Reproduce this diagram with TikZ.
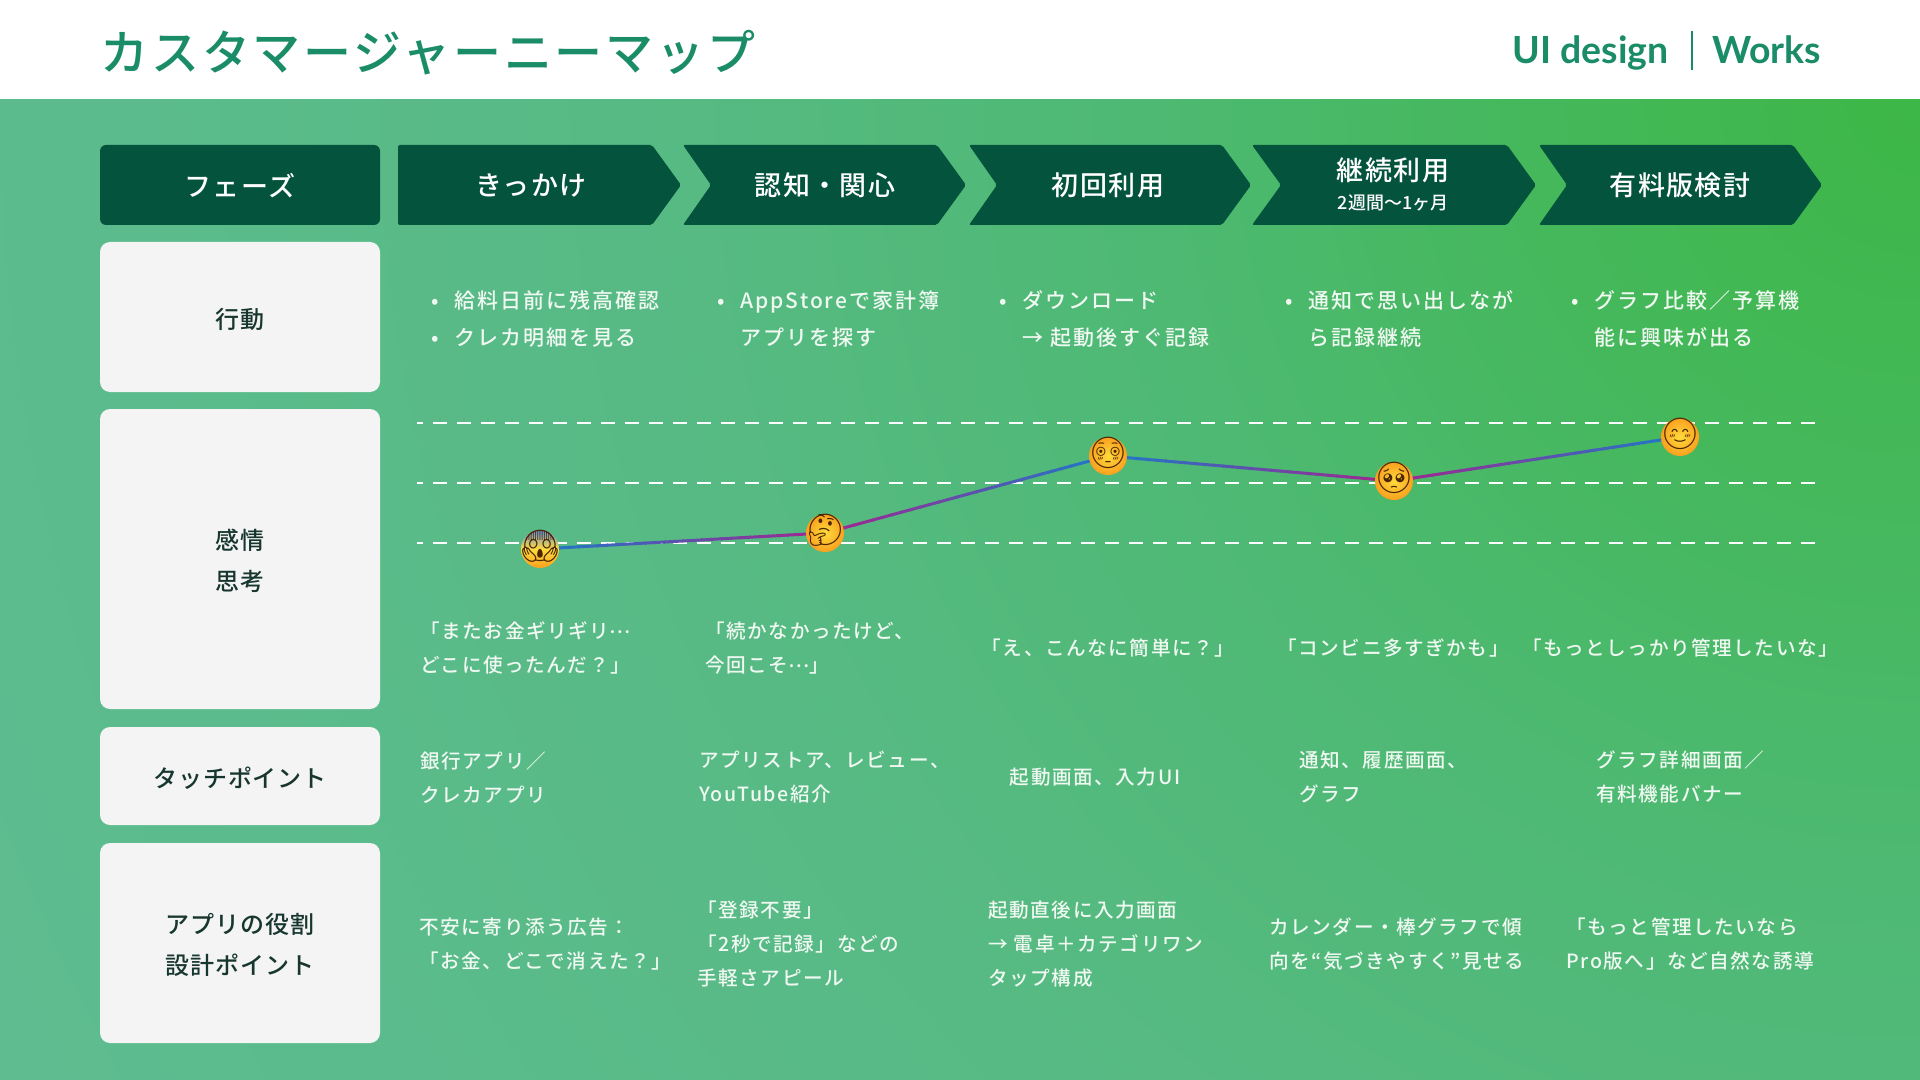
\documentclass[tikz,border=0pt]{standalone}
\usepackage{fontspec}
\usetikzlibrary{calc}
\setmainfont{Noto Sans CJK JP Medium}
\newfontfamily\bodyA[LetterSpace=8]{Noto Sans CJK JP Medium}
\newfontfamily\bodyB[LetterSpace=9.5]{Noto Sans CJK JP Medium}
\newfontfamily\head[LetterSpace=5]{Noto Sans CJK JP Medium}
\newfontfamily\cardf[LetterSpace=4]{Noto Sans CJK JP Medium}
\newfontfamily\ttl[LetterSpace=6]{Noto Sans CJK JP Medium}
\newfontfamily\plainjp{Noto Sans CJK JP Medium}
\newfontfamily\latin{Lato Bold}
\newfontfamily\emo{Noto Emoji}
\definecolor{bgA}{HTML}{3DB746}
\definecolor{bgB}{HTML}{45B85C}
\definecolor{bgC}{HTML}{4EB974}
\definecolor{bgD}{HTML}{57BA84}
\definecolor{bgE}{HTML}{5BBB8C}
\definecolor{bgF}{HTML}{60BD92}
\definecolor{teal}{HTML}{1A8C68}
\definecolor{dark}{HTML}{04533C}
\definecolor{card}{HTML}{F4F4F5}
\definecolor{ink}{HTML}{17372E}
\definecolor{soft}{HTML}{EFF8F1}
\definecolor{lineB}{HTML}{1F78C8}
\definecolor{lineM}{HTML}{A3258F}
\definecolor{faceA}{HTML}{FFDB3C}
\definecolor{faceB}{HTML}{FAA01E}
\definecolor{screamT}{HTML}{5F8FE0}
\pgfdeclareradialshading{bgglow}{\pgfpoint{0bp}{0bp}}{color(0bp)=(bgA);color(4.35bp)=(bgB);color(8.7bp)=(bgC);color(14bp)=(bgD);color(19.5bp)=(bgE);color(25bp)=(bgF);color(50bp)=(bgF)}
\tikzset{
  x=0.5pt,y=-0.5pt,
  phasebox/.style={fill=dark,rounded corners=3pt},
  chev/.style={fill=dark,rounded corners=1pt},
  cardbox/.style={fill=card,rounded corners=5pt},
  phasetext/.style={text=white,font=\head\fontsize{13.5}{16}\selectfont,align=center,inner sep=0pt,yshift=-0.2pt},
  cardtext/.style={text=ink,font=\cardf\fontsize{12}{20.5}\selectfont,align=center,inner sep=0pt,yshift=-0.7pt},
  celltext/.style={text=soft,font=\bodyA\fontsize{9.8}{17}\selectfont,align=left,inner sep=0pt,yshift=-0.7pt},
  actiontext/.style={text=soft,font=\bodyB\fontsize{10.5}{18.5}\selectfont,align=left,inner sep=0pt,anchor=west,yshift=-0.7pt},
  gridline/.style={draw=white,line width=1.3pt,dash pattern=on 7pt off 5pt,dash phase=4pt},
  face/.style={circle,minimum size=19pt,inner sep=0pt,text=black!70!orange,font=\emo\fontsize{15.5}{16}\selectfont},
}
\newcommand{\bul}{\makebox[11.5pt][l]{•}}
\newcommand{\ind}{\hspace*{11.5pt}}
\newcommand{\glyph}[1]{\smash{\makebox[0pt]{\raisebox{-3.9pt}{#1}}}}
\newcommand{\dotsmid}{\raisebox{2.6pt}{\plainjp …}}
\begin{document}
\begin{tikzpicture}
\useasboundingbox (0,0) rectangle (1920,1080);
\fill[white] (0,0) rectangle (1920,100);
\begin{scope}
\clip (0,100) rectangle (1920,1080);
\shade[shading=bgglow] (1920,100) circle (2300);
\end{scope}
% header
\node[anchor=west,text=teal,font=\ttl\fontsize{24}{28}\selectfont,inner sep=0pt] (title) at (100,53) {カスタマージャーニーマップ};
\node[anchor=base west,text=teal,font=\latin\fontsize{18.7}{22}\selectfont,inner sep=0pt] (ui) at (1512,64) {UI design};
\node[anchor=base west,text=teal,font=\latin\fontsize{18.7}{22}\selectfont,inner sep=0pt] (works) at (1712,64) {Works};
\coordinate (sepA) at (1692,31);
\coordinate (sepB) at (1692,70);
\draw[teal,line width=1pt] (sepA) -- (sepB);
% phase row
\fill[phasebox] (100,145) rectangle (380,225);
\fill[chev] (398,145) -- (652,145) -- (681,185) -- (652,225) -- (398,225) -- cycle;
\fill[chev] (683,145) -- (937,145) -- (966,185) -- (937,225) -- (683,225) -- (711,185) -- cycle;
\fill[chev] (969,145) -- (1222,145) -- (1251,185) -- (1222,225) -- (969,225) -- (997,185) -- cycle;
\fill[chev] (1252,145) -- (1507,145) -- (1536,185) -- (1507,225) -- (1252,225) -- (1281,185) -- cycle;
\fill[chev] (1539,145) -- (1793,145) -- (1822,185) -- (1793,225) -- (1539,225) -- (1567,185) -- cycle;
\node[phasetext] (p0) at (240,185) {フェーズ};
\node[phasetext] (p1) at (531,185) {きっかけ};
\node[phasetext] (p2) at (825,185) {認知・関心};
\node[phasetext] (p3) at (1108,185) {初回利用};
\node[phasetext] (p4) at (1393,170) {継続利用};
\node[text=white,font=\fontsize{9}{11}\selectfont,inner sep=0pt] (p4b) at (1393,203) {2週間〜1ヶ月};
\node[phasetext] (p5) at (1680,185) {有料版検討};
% cards
\fill[cardbox] (100,242) rectangle (380,392);
\fill[cardbox] (100,409) rectangle (380,709);
\fill[cardbox] (100,727) rectangle (380,825);
\fill[cardbox] (100,843) rectangle (380,1043);
\node[cardtext] (c1) at (240,318) {行動};
\node[cardtext] (c2) at (240,559) {感情\\思考};
\node[cardtext] (c3) at (240,777) {タッチポイント};
\node[cardtext] (c4) at (240,943) {アプリの役割\\設計ポイント};
% actions
\node[actiontext] (a1) at (431,318) {\bul 給料日前に残高確認\\\bul クレカ明細を見る};
\node[actiontext] (a2) at (717,318) {\bul AppStoreで家計簿\\\ind アプリを探す};
\node[actiontext] (a3) at (999,318) {\bul ダウンロード\\\ind → 起動後すぐ記録};
\node[actiontext] (a4) at (1285,318) {\bul 通知で思い出しなが\\\ind ら記録継続};
\node[actiontext] (a5) at (1571,318) {\bul グラフ比較／予算機\\\ind 能に興味が出る};
% grid
\coordinate (g1a) at (417,423); \coordinate (g1b) at (1815,423);
\coordinate (g2a) at (417,483); \coordinate (g2b) at (1815,483);
\coordinate (g3a) at (417,543); \coordinate (g3b) at (1815,543);
\draw[gridline] (g1a) -- (g1b);
\draw[gridline] (g2a) -- (g2b);
\draw[gridline] (g3a) -- (g3b);
% emotion curve anchors
\coordinate (e1) at (540,549);
\coordinate (e2) at (825,533);
\coordinate (e3) at (1108,456);
\coordinate (e4) at (1394,481);
\coordinate (e5) at (1680,437);
\foreach \s/\t/\flip in {e1/e2/0,e2/e3/1,e3/e4/0,e4/e5/1}{
  \foreach \i in {0,...,29}{
    \pgfmathsetmacro{\u}{\i/30}
    \pgfmathsetmacro{\v}{(\i+1.15)/30}
    \pgfmathtruncatemacro{\pct}{\flip==0 ? 100*\i/29 : 100-100*\i/29}
    \draw[line width=1.5pt,color=lineM!\pct!lineB] ($(\s)!\u!(\t)$) -- ($(\s)!\v!(\t)$);
  }
}
% emoji
\node[face,top color=screamT,bottom color=faceB,middle color=faceA] (f1) at (e1) {\glyph{😱}};
\node[face,inner color=faceA,outer color=faceB] (f2) at (e2) {\glyph{🤔}};
\node[face,inner color=faceA,outer color=faceB] (f3) at (e3) {\glyph{😳}};
\node[face,inner color=faceA,outer color=faceB] (f4) at (e4) {\glyph{🥺}};
\node[face,inner color=faceA,outer color=faceB] (f5) at (e5) {\glyph{😊}};
% quotes
\node[celltext,anchor=west] (q1) at (420,647) {「またお金ギリギリ\dotsmid\\どこに使ったんだ？」};
\node[celltext,anchor=west] (q2) at (705,647) {「続かなかったけど、\\今回こそ\dotsmid」};
\node[celltext] (q3) at (1108,647) {「え、こんなに簡単に？」};
\node[celltext] (q4) at (1393,647) {「コンビニ多すぎかも」};
\node[celltext] (q5) at (1680,647) {「もっとしっかり管理したいな」};
% touchpoints
\node[celltext,anchor=west] (t1) at (420,776) {銀行アプリ／\\クレカアプリ};
\node[celltext,anchor=west] (t2) at (699,776) {アプリストア、レビュー、\\YouTube紹介};
\node[celltext] (t3) at (1095,776) {起動画面、入力UI};
\node[celltext,anchor=west] (t4) at (1299,776) {通知、履歴画面、\\グラフ};
\node[celltext,anchor=west] (t5) at (1596,776) {グラフ詳細画面／\\有料機能バナー};
% roles
\node[celltext,anchor=west] (r1) at (419,943) {不安に寄り添う広告：\\「お金、どこで消えた？」};
\node[celltext,anchor=west] (r2) at (697,943) {「登録不要」\\「2秒で記録」などの\\手軽さアピール};
\node[celltext,anchor=west] (r3) at (988,943) {起動直後に入力画面\\→ 電卓＋カテゴリワン\\タップ構成};
\node[celltext,anchor=west] (r4) at (1269,943) {カレンダー・棒グラフで傾\\向を“気づきやすく”見せる};
\node[celltext,anchor=west] (r5) at (1566,943) {「もっと管理したいなら\\Pro版へ」など自然な誘導};
\end{tikzpicture}
\end{document}
